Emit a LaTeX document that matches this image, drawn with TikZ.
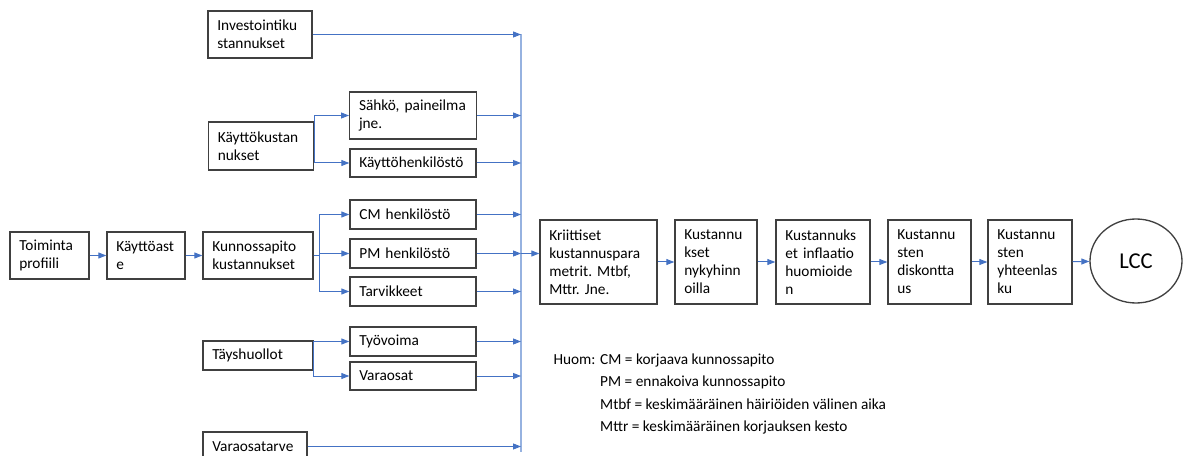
\documentclass[tikz,border=0pt]{standalone}
\usepackage{fontspec}
\setmainfont{Carlito}
\frenchspacing
\usetikzlibrary{arrows.meta,shapes.geometric}
\definecolor{linkblue}{RGB}{68,114,196}
\definecolor{busblue}{RGB}{150,178,224}
\definecolor{boxgray}{RGB}{64,64,64}
\tikzset{every picture/.style={line width=0.75pt}}
\tikzset{
  costbox/.style={draw=boxgray, line width=1pt, rectangle, align=left, inner xsep=7pt, inner ysep=1pt, font=\fontsize{11.5}{13.5}\selectfont},
  link/.style={draw=linkblue, line width=0.75pt, -{Triangle[length=6pt,width=4.5pt]}},
}

\begin{document}
\begin{tikzpicture}[x=0.75pt,y=0.75pt,yscale=-1,xscale=1]
			\useasboundingbox (0,0) rectangle (1183,456);
			\clip (0,0) rectangle (1183,456);
			%Shape: Rectangle [id:invest]
			\node[costbox, text width=64pt, minimum height=35.25pt] (invest) at (260,34.5) {Investointiku\\stannukset};
			%Shape: Rectangle [id:kaytto]
			\node[costbox, text width=64.75pt, minimum height=36pt] (kaytto) at (261,146) {Käyttökustan\\nukset};
			%Shape: Rectangle [id:sahko]
			\node[costbox, text width=81pt, minimum height=35.25pt] (sahko) at (413,115.5) {Sähkö, paineilma\\jne.};
			%Shape: Rectangle [id:kayttohenk]
			\node[costbox, text width=80.5pt, minimum height=21pt] (kayttohenk) at (413,163) {Käyttöhenkilöstö};
			%Shape: Rectangle [id:toiminta]
			\node[costbox, text width=45.25pt, minimum height=35.25pt] (toiminta) at (49.5,255.5) {Toiminta\\profiili};
			%Shape: Rectangle [id:kayttoaste]
			\node[costbox, text width=44.5pt, minimum height=35.25pt] (kayttoaste) at (146,255.5) {Käyttöast\\e};
			%Shape: Rectangle [id:kunnossa]
			\node[costbox, text width=68.5pt, minimum height=35.25pt] (kunnossa) at (258,255.5) {Kunnossapito\\kustannukset};
			%Shape: Rectangle [id:cm]
			\node[costbox, text width=80.5pt, minimum height=21.75pt] (cm) at (413,214.5) {CM henkilöstö};
			%Shape: Rectangle [id:pm]
			\node[costbox, text width=80.5pt, minimum height=21.75pt] (pm) at (413,253.5) {PM henkilöstö};
			%Shape: Rectangle [id:tarvik]
			\node[costbox, text width=80.5pt, minimum height=21.75pt] (tarvik) at (413,291.5) {Tarvikkeet};
			%Shape: Rectangle [id:tays]
			\node[costbox, text width=68.5pt, minimum height=21.75pt] (tays) at (258,355.5) {Täyshuollot};
			%Shape: Rectangle [id:tyovoima]
			\node[costbox, text width=80.5pt, minimum height=21.75pt] (tyovoima) at (413,341.5) {Työvoima};
			%Shape: Rectangle [id:varaosat]
			\node[costbox, text width=80.5pt, minimum height=21pt] (varaosat) at (413,376) {Varaosat};
			%Shape: Rectangle [id:varaosatarve]
			\node[costbox, text width=64pt, minimum height=21.75pt] (varaosatarve) at (255,446.5) {Varaosatarve};
			%Shape: Rectangle [id:krit]
			\node[costbox, text width=73.75pt, minimum height=63pt] (krit) at (598.5,262) {Kriittiset\\kustannuspara\\metrit. Mtbf,\\Mttr. Jne.};
			%Shape: Rectangle [id:nyky]
			\node[costbox, text width=47.5pt, minimum height=63pt] (nyky) at (716,262) {Kustannu\\kset\\nykyhinn\\oilla};
			%Shape: Rectangle [id:infl]
			\node[costbox, text width=56.5pt, minimum height=63pt] (infl) at (823,262) {Kustannuks\\et inflaatio\\huomioide\\n};
			%Shape: Rectangle [id:disk]
			\node[costbox, text width=48.25pt, minimum height=63pt] (disk) at (929.5,262) {Kustannu\\sten\\diskontta\\us};
			%Shape: Rectangle [id:yht]
			\node[costbox, text width=49pt, minimum height=63pt] (yht) at (1030,262) {Kustannu\\sten\\yhteenlas\\ku};
			%Shape: Ellipse [id:lcc]
			\node[draw=boxgray, line width=1pt, ellipse, minimum width=69pt, minimum height=63pt, inner sep=0pt, font=\fontsize{17}{20}\selectfont] (lcc) at (1136,261) {LCC};

			%Straight Lines [id:bus]
			\coordinate (bustop) at (521,34.5);
			\coordinate (busbot) at (521,452);
			\draw[busblue, line width=1pt] (bustop) -- (busbot);

			%Straight Lines [id:main chain]
			\draw[link] (toiminta) -- (kayttoaste);
			\draw[link] (kayttoaste) -- (kunnossa);
			%Straight Lines [id:kaytto branch]
			\draw[link] (kaytto.east) |- (sahko.west);
			\draw[link] (kaytto.east) |- (kayttohenk.west);
			%Straight Lines [id:kunnossa branch]
			\draw[link] (kunnossa.east) -- ++(6,0) |- (cm.west);
			\draw[link] (kunnossa.east) -- ++(6,0) |- (pm.west);
			\draw[link] (kunnossa.east) -- ++(6,0) |- (tarvik.west);
			%Straight Lines [id:tays branch]
			\draw[link] (tays.east) |- (tyovoima.west);
			\draw[link] (tays.east) |- (varaosat.west);

			%Straight Lines [id:to bus]
			\draw[link] (invest.east) -- (invest.east -| bustop);
			\draw[link] (sahko.east) -- (sahko.east -| bustop);
			\draw[link] (kayttohenk.east) -- (kayttohenk.east -| bustop);
			\draw[link] (cm.east) -- (cm.east -| bustop);
			\draw[link] (pm.east) -- (pm.east -| bustop);
			\draw[link] (tarvik.east) -- (tarvik.east -| bustop);
			\draw[link] (tyovoima.east) -- (tyovoima.east -| bustop);
			\draw[link] (varaosat.east) -- (varaosat.east -| bustop);
			\draw[link] (varaosatarve.east) -- (varaosatarve.east -| bustop);

			%Straight Lines [id:result chain]
			\draw[link] (pm.east -| bustop) -- (krit.west |- pm.east);
			\draw[link] (krit) -- (nyky);
			\draw[link] (nyky) -- (infl);
			\draw[link] (infl) -- (disk);
			\draw[link] (disk) -- (yht);
			\draw[link] (yht) -- (lcc);

			% Text Node
			\node[anchor=west, inner sep=0pt, font=\fontsize{11.5}{16.75}\selectfont] (huom) at (553,393.5) {\begin{tabular}{@{}l@{\hspace{3.5pt}}l@{}}
						Huom: & CM = korjaava kunnossapito \\
						      & PM = ennakoiva kunnossapito \\
						      & Mtbf = keskimääräinen häiriöiden välinen aika \\
						      & Mttr = keskimääräinen korjauksen kesto
					\end{tabular}};
\end{tikzpicture}
\end{document}
